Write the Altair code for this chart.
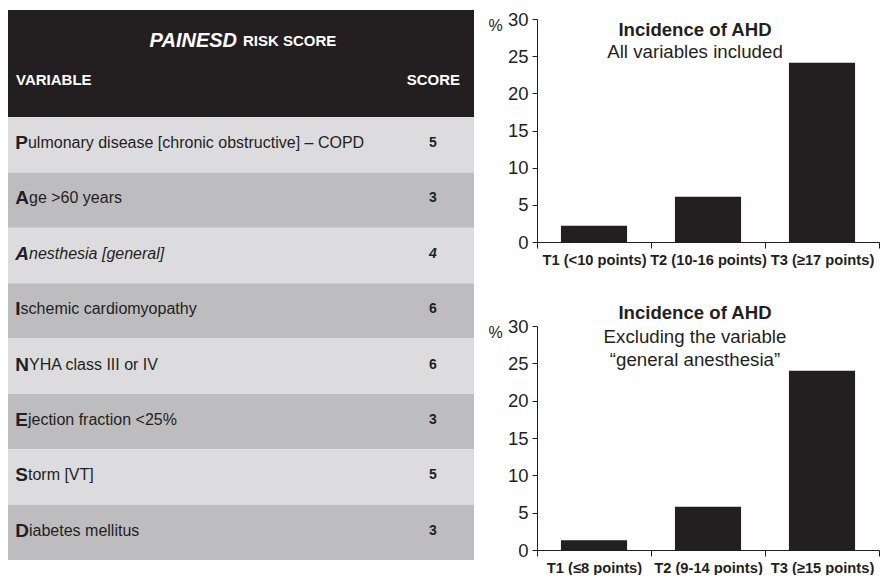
import altair as alt
import pandas as pd

# ---------------- data ----------------
initials = ["P", "A", "A", "I", "N", "E", "S", "D"]
rest_text = [
    "ulmonary disease [chronic obstructive] – COPD",
    "ge >60 years",
    "nesthesia [general]",
    "schemic cardiomyopathy",
    "YHA class III or IV",
    "jection fraction <25%",
    "torm [VT]",
    "iabetes mellitus",
]
scores = [5, 3, 4, 6, 6, 3, 5, 3]
italic_rows = [False, False, True, False, False, False, False, False]

groups_all = ["T1 (<10 points)", "T2 (10-16 points)", "T3 (≥17 points)"]
incidence_all = [2.2, 6.1, 24.1]
groups_excl = ["T1 (≤8 points)", "T2 (9-14 points)", "T3 (≥15 points)"]
incidence_excl = [1.3, 5.8, 24.0]
y_ticks = [0, 5, 10, 15, 20, 25, 30]

title_main = "Incidence of AHD"
sub_all = ["All variables included"]
sub_excl = ["Excluding the variable", "“general anesthesia”"]

# ---------------- style ----------------
FONT = "Liberation Sans"
INK = "#231f20"
LIGHT = "#dcdcde"
DARK = "#bdbdc0"
LETTER_SIZE = 19
LETTER_ADV = {"P": 0.667, "A": 0.722, "I": 0.278, "N": 0.722, "E": 0.667, "S": 0.667, "D": 0.722}
TABLE_W = 466
TABLE_H = 541
ROW_PX = 443 / 8
HEADER_ROWS = 107 / ROW_PX
TOP_ROWS = 98 / ROW_PX
PANEL_W = 342

# ---------------- table ----------------
n = len(initials)
rows = pd.DataFrame({
    "top": list(range(n)),
    "bottom": [i + 1 for i in range(n)],
    "mid": [i + 0.47 for i in range(n)],
    "shade": ["light" if i % 2 == 0 else "dark" for i in range(n)],
    "initial": initials,
    "rest": rest_text,
    "score": [str(s) for s in scores],
    "italic": italic_rows,
    "restx": [7.3 + LETTER_ADV[c] * LETTER_SIZE for c in initials],
})

yscale = alt.Scale(domain=[-TOP_ROWS, n], reverse=True, nice=False, zero=False)

bands = alt.Chart(rows).mark_rect().encode(
    x=alt.value(0), x2=alt.value("width"),
    y=alt.Y("top:Q", scale=yscale, axis=None), y2="bottom:Q",
    color=alt.Color("shade:N", scale=alt.Scale(domain=["light", "dark"], range=[LIGHT, DARK]), legend=None),
)

header_df = pd.DataFrame({"top": [-HEADER_ROWS], "bottom": [0]})
header = alt.Chart(header_df).mark_rect(color=INK).encode(
    x=alt.value(0), x2=alt.value("width"),
    y=alt.Y("top:Q", scale=yscale, axis=None), y2="bottom:Q",
)

head_text = pd.DataFrame({
    "t": ["PAINESD", "RISK SCORE", "VARIABLE", "SCORE"],
    "pos": [-1.372, -1.372, -0.668, -0.668],
})


def htext(label, **kw):
    return alt.Chart(head_text).transform_filter(alt.datum.t == label).mark_text(
        font=FONT, color="white", baseline="middle", fontWeight="bold", **kw
    ).encode(y=alt.Y("pos:Q", scale=yscale, axis=None), text="t:N")


h1 = htext("PAINESD", fontSize=20, fontStyle="italic", align="right").encode(x=alt.value(229))
h2 = htext("RISK SCORE", fontSize=15, align="left").encode(x=alt.value(235))
h3 = htext("VARIABLE", fontSize=15, align="left").encode(x=alt.value(8))
h4 = htext("SCORE", fontSize=15, align="right").encode(x=alt.value(452))


def rowtext(field, italic, **kw):
    base = alt.Chart(rows).transform_filter(alt.datum.italic == italic)
    style = "italic" if italic else "normal"
    return base.mark_text(font=FONT, color=INK, baseline="middle", fontStyle=style, **kw).encode(
        y=alt.Y("mid:Q", scale=yscale, axis=None), text=f"{field}:N"
    )


layers = []
for it in (False, True):
    layers.append(rowtext("initial", it, fontSize=LETTER_SIZE, fontWeight="bold", align="left").encode(x=alt.value(7.3)))
    layers.append(rowtext("rest", it, fontSize=16, align="left").encode(x=alt.X("restx:Q", scale=None)))
    layers.append(rowtext("score", it, fontSize=14, fontWeight="bold", align="center").encode(x=alt.value(425)))

table = alt.layer(bands, header, h1, h2, h3, h4, *layers).properties(width=TABLE_W, height=TABLE_H)


# ---------------- bar panels ----------------
def panel(groups, values, title_pos, subs, sub_pos, width, height, label_pad):
    df = pd.DataFrame({"group": groups, "incidence": values})
    x = alt.X(
        "group:N", sort=groups, title=None,
        scale=alt.Scale(paddingInner=0, paddingOuter=0),
        axis=alt.Axis(labelAngle=0, tickBand="extent", labelFont=FONT, labelFontSize=14.7,
                      labelFontWeight="bold", labelColor=INK, tickSize=6, labelPadding=label_pad,
                      domainColor=INK, tickColor=INK, labelLimit=0, grid=False),
    )
    y = alt.Y(
        "incidence:Q", scale=alt.Scale(domain=[0, 30], nice=False),
        axis=alt.Axis(values=y_ticks, title="%", titleAngle=0, titleX=-49, titleY=6,
                      titleAlign="left", titleBaseline="middle", titleFontWeight="normal",
                      titleFont=FONT, titleFontSize=16, titleColor=INK,
                      labelFont=FONT, labelFontSize=18.5, labelColor=INK, tickSize=5,
                      labelPadding=4, domainColor=INK, tickColor=INK, grid=False),
    )
    bars = alt.Chart(df).mark_bar(color=INK, width=alt.RelativeBandSize(0.58)).encode(x=x, y=y)
    tdf = pd.DataFrame({"label": [title_main], "incidence": [title_pos]})
    sdf = pd.DataFrame({"label": subs, "incidence": sub_pos})
    t1 = alt.Chart(tdf).mark_text(font=FONT, fontSize=18.6, fontWeight="bold", color=INK,
                                  align="center", baseline="middle").encode(
        x=alt.value(158), y=y, text="label:N")
    t2 = alt.Chart(sdf).mark_text(font=FONT, fontSize=18.7, color=INK,
                                  align="center", baseline="middle").encode(
        x=alt.value(158), y=y, text="label:N")
    return alt.layer(bars, t1, t2).properties(width=width, height=height)


c1 = panel(groups_all, incidence_all, 28.5, sub_all, [25.6], PANEL_W, 223, 4)
c2 = panel(groups_excl, incidence_excl, 31.7, sub_excl, [28.5, 25.5], PANEL_W, 224, 4)

right = alt.vconcat(c1, c2, spacing=84, bounds="flush")
chart = alt.hconcat(table, right, spacing=63, bounds="flush").properties(
    padding={"left": 0, "top": 2, "right": 0, "bottom": 0}
).configure(font=FONT).configure_view(stroke=None)

chart.save("out.html", embed_options={"renderer": "svg", "actions": False})
